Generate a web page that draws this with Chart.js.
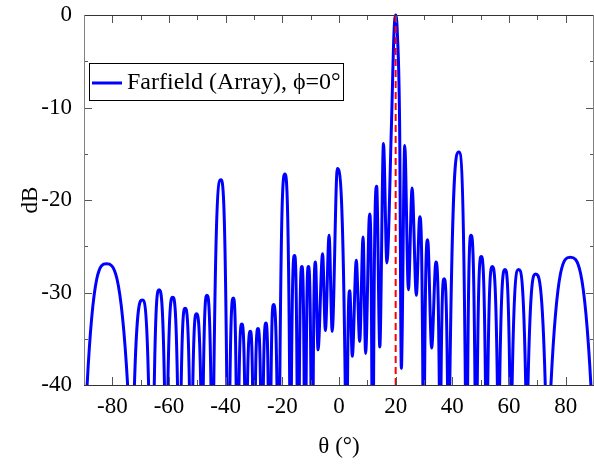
<!DOCTYPE html>
<html>
<head>
<meta charset="utf-8">
<script src="https://cdn.jsdelivr.net/npm/chart.js@4.4.0/dist/chart.umd.min.js"></script>
<style>
  html, body { margin: 0; padding: 0; background: #fff; }
</style>
</head>
<body>
<canvas id="farfield" width="594" height="464"></canvas>
<script>
// pattern: angle (deg) and level (dB); points below -40 are clipped nulls
var theta = [
  -90, -88.9, -82.1, -74.6, -73.4, -72.2, -69.4, -67.2, -66.2, -65.2,
  -63.5, -61.6, -61.0, -60.4, -58.7, -57.0, -56.4, -55.7, -54.3, -52.8,
  -52.2, -51.6, -50.3, -48.8, -48.4, -47.9, -46.6, -45.2, -44.7, -44.2,
  -41.7, -39.6, -39.0, -38.5, -37.3, -36.3, -35.8, -35.3, -34.3, -33.3,
  -32.8, -32.3, -31.3, -30.5, -30.0, -29.5, -28.6, -27.7, -27.2, -26.7,
  -25.8, -25.0, -24.5, -24.0, -23.1, -21.9, -21.4, -20.9, -19.1, -17.4,
  -17.1, -16.8, -15.7, -14.8, -14.4, -14.0, -13.1, -12.3, -12.0, -11.6,
  -10.8, -9.9, -9.5, -9.1, -8.3, -7.4, -5.8, -4.8, -3.5, -2.4,
  -0.6, 2.2, 2.6, 3.0, 3.8, 4.7, 6.1, 7.3, 8.5, 9.4,
  10.8, 11.6, 11.9, 12.2, 13.3, 14.4, 15.7, 16.9, 18.5, 19.4,
  20, 20.6, 21.4, 22.0, 23.2, 24.5, 25.8, 27.3, 28.5, 29.6,
  29.9, 30.2, 31.3, 32.7, 34.2, 35.4, 35.7, 36.0, 37.1, 38.3,
  38.7, 39.1, 42.3, 44.6, 45.0, 45.4, 46.6, 48.0, 48.4, 48.8,
  50.2, 51.7, 52.1, 52.5, 54.1, 55.9, 56.3, 56.7, 58.6, 60.3,
  60.7, 61.1, 63.4, 65.9, 66.3, 66.7, 69.4, 72.8, 73.8, 74.8,
  81.6, 88.9, 90
];
var gain = [
  -60, -40, -26.9, -40, -80, -40, -30.8, -40, -80, -40,
  -29.7, -40, -80, -40, -30.5, -40, -80, -40, -31.7, -40,
  -80, -40, -32.3, -40, -80, -40, -30.3, -40, -80, -40,
  -17.8, -40, -80, -40, -30.6, -40, -80, -40, -33.4, -40,
  -80, -40, -34.2, -40, -80, -40, -33.9, -40, -80, -40,
  -33.3, -40, -80, -40, -31.3, -40, -80, -40, -17.2, -40,
  -80, -40, -26.0, -40, -80, -40, -27.2, -40, -80, -40,
  -27.2, -40, -80, -40, -26.7, -36.2, -25.8, -34.1, -23.8, -34.2,
  -16.6, -40, -80, -40, -29.8, -36.9, -26.5, -35.3, -24.0, -36.6,
  -21.5, -40, -80, -40, -18.5, -35.9, -13.9, -26.8, -12, -2,
  0, -2, -12, -38.2, -14.1, -29.7, -18.7, -30.3, -21.8, -40,
  -80, -40, -24.3, -36.0, -26.7, -40, -80, -40, -28.5, -40,
  -80, -40, -14.8, -40, -80, -40, -23.8, -40, -80, -40,
  -26.1, -40, -80, -40, -27.2, -40, -80, -40, -27.5, -40,
  -80, -40, -27.5, -40, -80, -40, -28.0, -40, -80, -40,
  -26.2, -40, -60
];
var steerAngle = 20;
var xTickLabels = [-80, -60, -40, -20, 0, 20, 40, 60, 80];
var yTickLabels = [0, -10, -20, -30, -40];

var pattern = [];
for (var i = 0; i < theta.length; i++) {
  pattern.push({ x: theta[i], y: gain[i] });
}

var serif = "'Liberation Serif', 'Times New Roman', serif";

// box round the plot, with inward ticks on all four sides, plus the legend box
var frame = {
  id: 'frame',
  afterDraw: function(chart) {
    var ctx = chart.ctx, a = chart.chartArea;
    var xs = chart.scales.x, ys = chart.scales.y;
    ctx.save();
    ctx.lineWidth = 1;
    ctx.strokeStyle = '#555';
    xs.ticks.forEach(function(t) {
      if (t.value <= xs.min || t.value >= xs.max) return;
      var px = Math.round(xs.getPixelForValue(t.value)) + 0.5;
      var len = xTickLabels.indexOf(t.value) >= 0 ? 8 : 5;
      ctx.beginPath();
      ctx.moveTo(px, a.bottom); ctx.lineTo(px, a.bottom - len);
      ctx.moveTo(px, a.top); ctx.lineTo(px, a.top + len);
      ctx.stroke();
    });
    ys.ticks.forEach(function(t) {
      if (t.value <= ys.min || t.value >= ys.max) return;
      var py = Math.round(ys.getPixelForValue(t.value)) + 0.5;
      var len = yTickLabels.indexOf(t.value) >= 0 ? 8 : 4;
      ctx.beginPath();
      ctx.moveTo(a.left, py); ctx.lineTo(a.left + len, py);
      ctx.moveTo(a.right, py); ctx.lineTo(a.right - len, py);
      ctx.stroke();
    });
    ctx.strokeStyle = '#333';
    ctx.beginPath();
    ctx.moveTo(a.left, a.top + 0.5); ctx.lineTo(a.right, a.top + 0.5);
    ctx.moveTo(a.left, a.bottom + 0.5); ctx.lineTo(a.right, a.bottom + 0.5);
    ctx.stroke();
    ctx.strokeStyle = '#808080';
    ctx.beginPath();
    ctx.moveTo(a.left + 0.5, a.top); ctx.lineTo(a.left + 0.5, a.bottom);
    ctx.moveTo(a.right - 0.5, a.top); ctx.lineTo(a.right - 0.5, a.bottom);
    ctx.stroke();

    // legend
    var lx = 89, ly = 63, lw = 254, lh = 37;
    ctx.fillStyle = '#fff';
    ctx.fillRect(lx, ly, lw, lh);
    ctx.strokeStyle = '#000';
    ctx.strokeRect(lx + 0.5, ly + 0.5, lw, lh);
    ctx.strokeStyle = '#0000ff';
    ctx.lineWidth = 3;
    ctx.beginPath();
    ctx.moveTo(92, 83); ctx.lineTo(122, 83);
    ctx.stroke();
    ctx.fillStyle = '#000';
    ctx.font = '24px ' + serif;
    ctx.textBaseline = 'middle';
    ctx.fillText(chart.data.datasets[1].label, 127, 83);
    ctx.restore();
  }
};

var ctx = document.getElementById('farfield');
var chart = new Chart(ctx, {
  type: 'line',
  data: {
    datasets: [{
      label: 'steer',
      data: [{ x: steerAngle, y: 0 }, { x: steerAngle, y: -40 }],
      borderColor: '#ff0000',
      borderWidth: 2,
      borderDash: [7, 4],
      pointRadius: 0,
      clip: 0
    }, {
      label: 'Farfield (Array), \u03D5=0\u00B0',
      data: pattern,
      borderColor: '#0000ff',
      borderWidth: 3,
      pointRadius: 0,
      cubicInterpolationMode: 'monotone',
      clip: { left: 0, right: 0, top: 2, bottom: 0 }
    }]
  },
  options: {
    responsive: false,
    animation: false,
    devicePixelRatio: 1,
    layout: { padding: { top: 15, right: 0, left: 0, bottom: 0 } },
    plugins: { legend: { display: false }, tooltip: { enabled: false } },
    scales: {
      x: {
        type: 'linear',
        min: -90, max: 90,
        grid: { display: false, drawTicks: false },
        border: { display: false },
        ticks: {
          // no padding here (it would shrink the plot on the right); lineHeight pushes labels down
          stepSize: 10, autoSkip: false, maxRotation: 0, padding: 0,
          color: '#000', font: { family: serif, size: 23, lineHeight: 1.9 },
          callback: function(v) { return xTickLabels.indexOf(v) >= 0 ? String(v) : ''; }
        },
        title: { display: true, text: '\u03B8 (\u00B0)', color: '#000', font: { family: serif, size: 23 }, padding: { top: 0, bottom: 3 } },
        afterFit: function(s) { s.height = 79; }
      },
      y: {
        min: -40, max: 0,
        grid: { display: false, drawTicks: false },
        border: { display: false },
        ticks: {
          stepSize: 5, autoSkip: false, padding: 12,
          color: '#000', font: { family: serif, size: 23, lineHeight: 0.2 },
          callback: function(v) { return yTickLabels.indexOf(v) >= 0 ? String(v) : ''; }
        },
        title: { display: true, text: 'dB', color: '#000', font: { family: serif, size: 23 }, padding: { top: 17, bottom: 0 } },
        afterFit: function(s) { s.width = 84; }
      }
    }
  },
  plugins: [frame]
});
</script>
</body>
</html>
